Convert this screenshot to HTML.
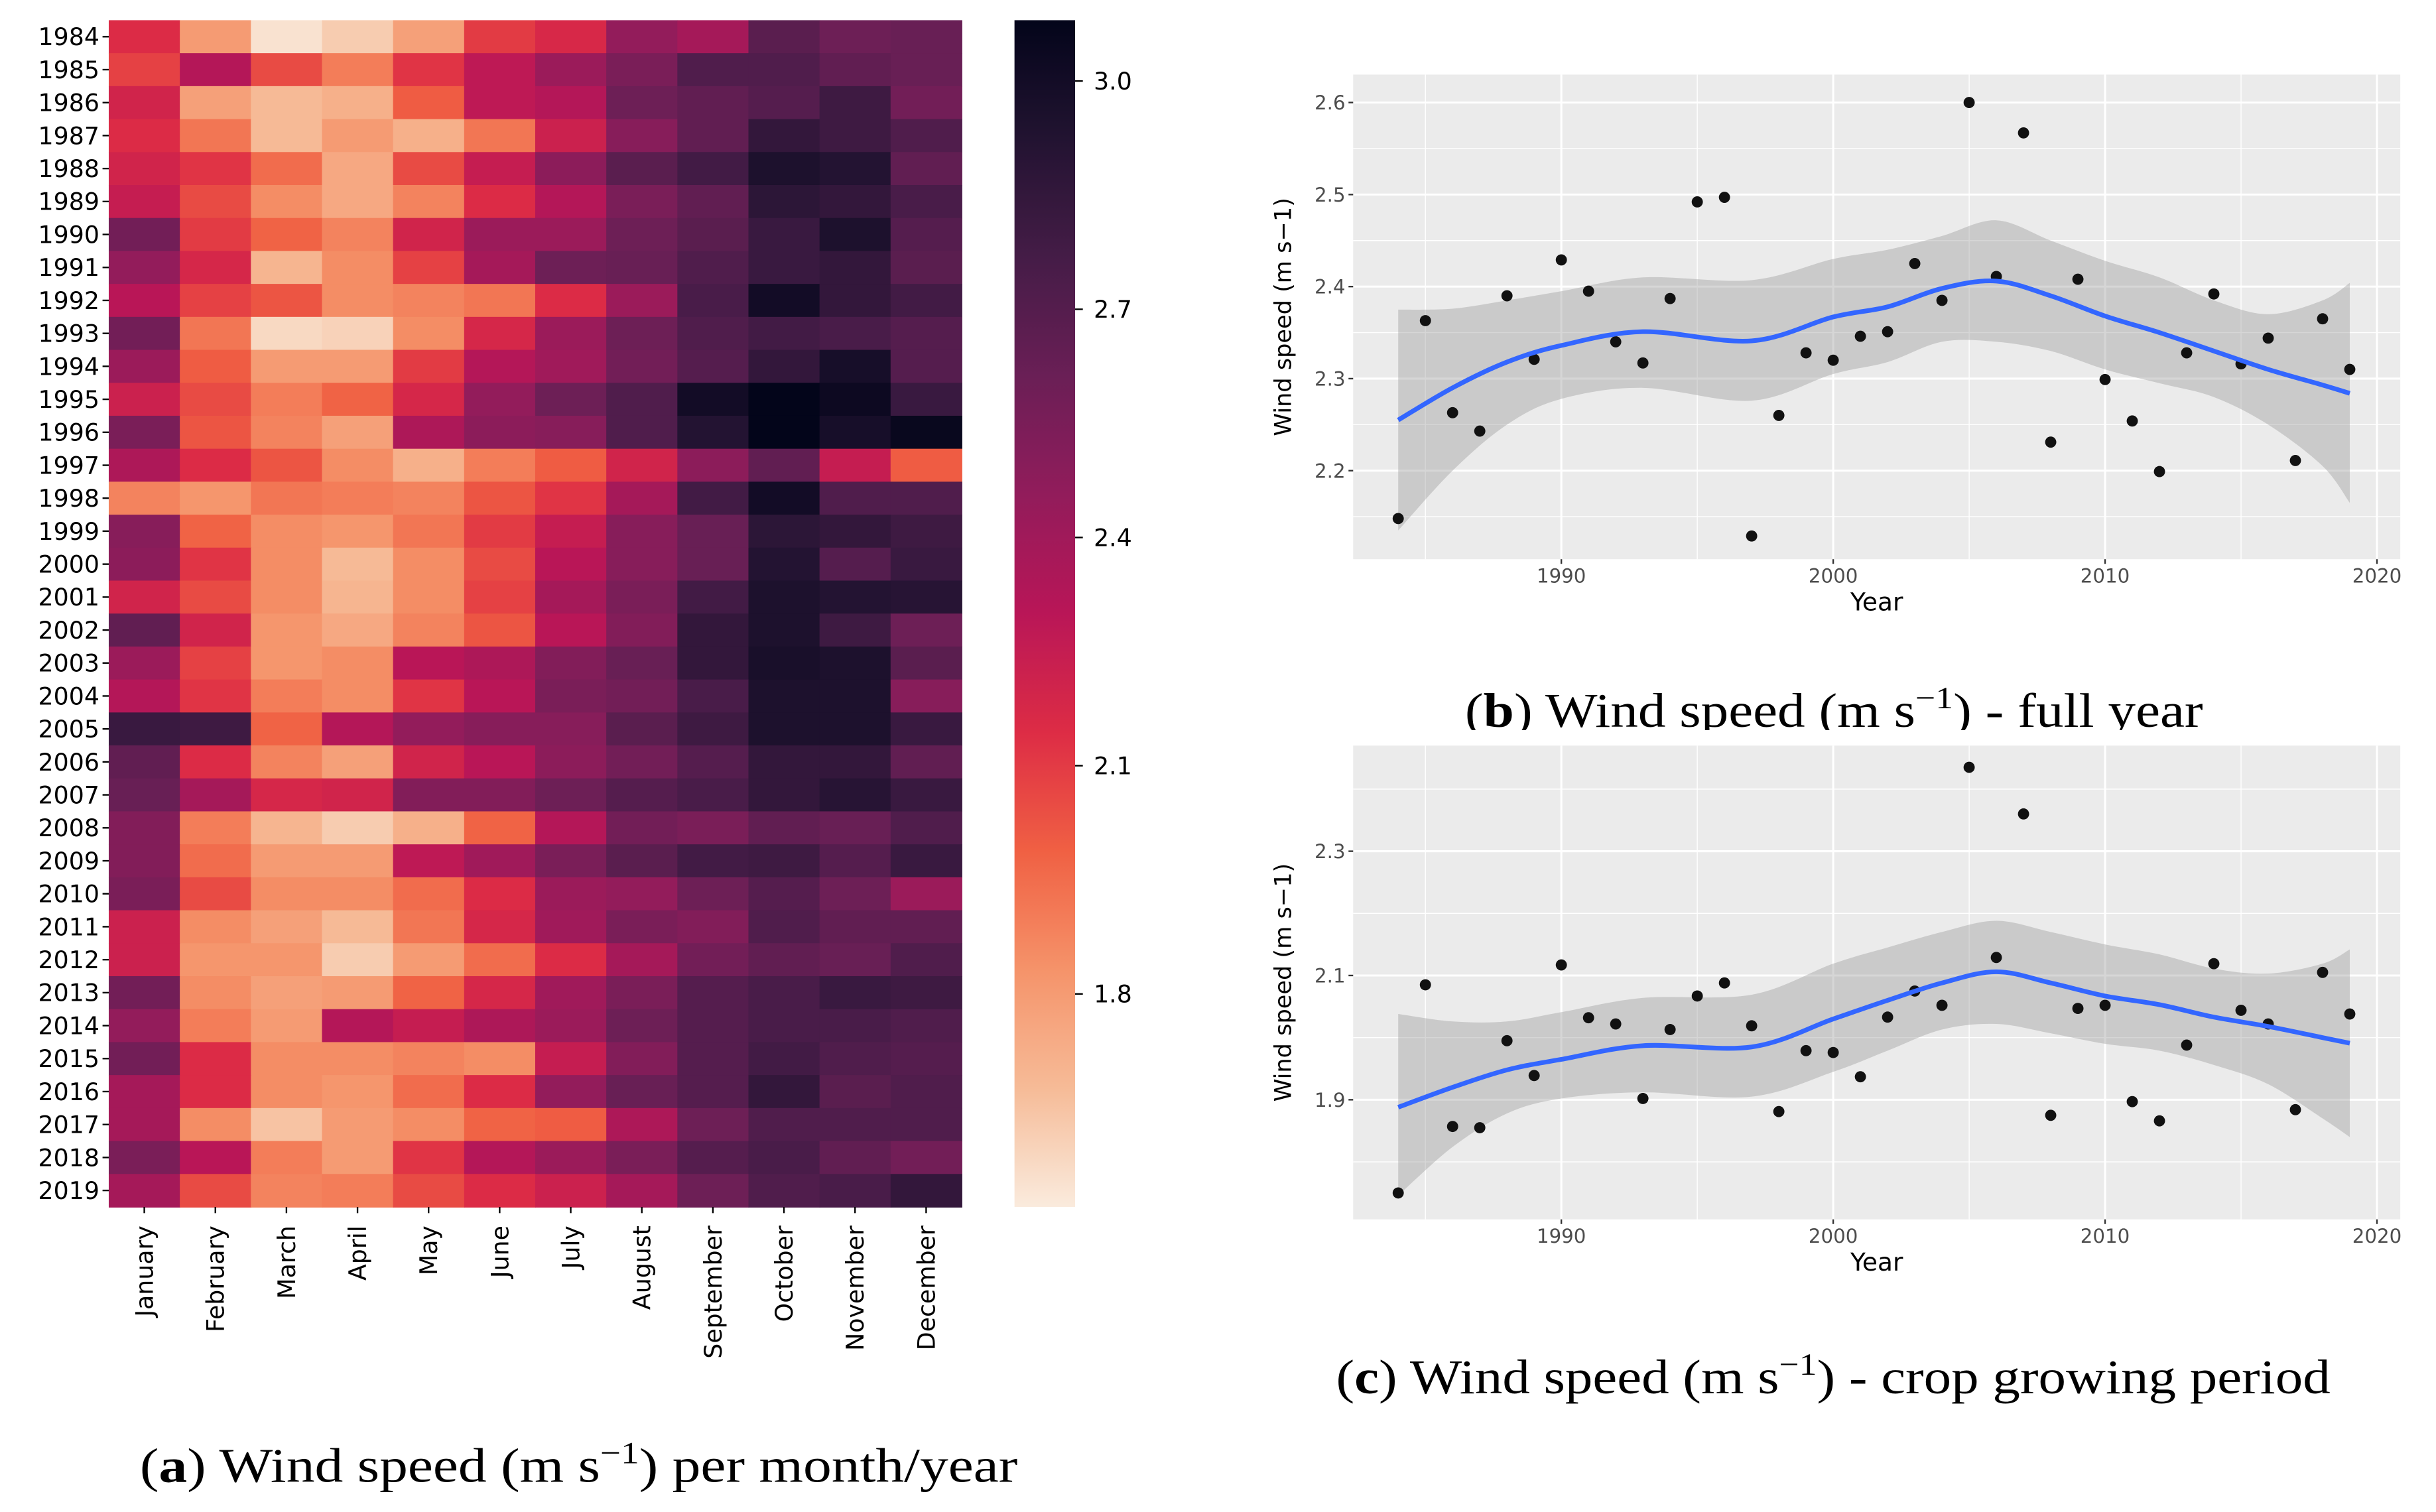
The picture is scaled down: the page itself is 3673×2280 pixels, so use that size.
<!DOCTYPE html>
<html><head><meta charset="utf-8"><style>
html,body{margin:0;padding:0;background:#fff;}
svg{display:block;}
text{font-family:"DejaVu Sans","Liberation Sans",sans-serif;}
.cap{font-family:"Liberation Serif",serif;font-size:31px;fill:#000;}
</style></head><body>
<svg id="fig" xmlns="http://www.w3.org/2000/svg" width="3673" height="2280" viewBox="0 0 1568 973.4" preserveAspectRatio="none">
<g id="heat"></g>
<g id="cbar"></g>
<g id="pb"></g>
<text class="cap" x="943" y="468" textLength="475" lengthAdjust="spacingAndGlyphs">(<tspan font-weight="bold">b</tspan>) Wind speed (m s<tspan dy="-12" font-size="20">−1</tspan><tspan dy="12">) - full year</tspan></text>
<rect x="860" y="470" width="700" height="12" fill="#fff"/>
<g id="pc"></g>
<text class="cap" x="90" y="954" textLength="565" lengthAdjust="spacingAndGlyphs">(<tspan font-weight="bold">a</tspan>) Wind speed (m s<tspan dy="-12" font-size="20">−1</tspan><tspan dy="12">) per month/year</tspan></text>
<text class="cap" x="860" y="897" textLength="640" lengthAdjust="spacingAndGlyphs">(<tspan font-weight="bold">c</tspan>) Wind speed (m s<tspan dy="-12" font-size="20">−1</tspan><tspan dy="12">) - crop growing period</tspan></text>
</svg>
<script>
const months = ["January","February","March","April","May","June","July","August","September","October","November","December"];
const heatYears = [1984,1985,1986,1987,1988,1989,1990,1991,1992,1993,1994,1995,1996,1997,1998,1999,2000,2001,2002,2003,2004,2005,2006,2007,2008,2009,2010,2011,2012,2013,2014,2015,2016,2017,2018,2019];
const heatValues = [
[2.15,1.8,1.55,1.62,1.78,2.1,2.17,2.45,2.38,2.68,2.6,2.62],
[2.08,2.32,2.05,1.9,2.12,2.28,2.42,2.55,2.72,2.72,2.65,2.62],
[2.2,1.78,1.68,1.72,2.0,2.28,2.32,2.6,2.65,2.7,2.8,2.58],
[2.15,1.92,1.68,1.8,1.72,1.92,2.22,2.5,2.65,2.85,2.8,2.72],
[2.2,2.12,1.95,1.75,2.05,2.25,2.48,2.68,2.78,2.95,2.92,2.65],
[2.25,2.05,1.85,1.75,1.88,2.15,2.32,2.55,2.65,2.88,2.85,2.75],
[2.58,2.1,1.98,1.88,2.2,2.42,2.42,2.6,2.68,2.82,2.95,2.7],
[2.45,2.18,1.7,1.85,2.08,2.38,2.6,2.62,2.72,2.82,2.85,2.68],
[2.3,2.08,2.02,1.85,1.88,1.92,2.15,2.42,2.75,3.0,2.85,2.78],
[2.58,1.92,1.58,1.6,1.85,2.18,2.42,2.6,2.72,2.78,2.75,2.7],
[2.42,2.0,1.8,1.8,2.1,2.32,2.4,2.58,2.7,2.85,2.98,2.7],
[2.22,2.05,1.9,1.98,2.18,2.45,2.6,2.72,3.0,3.08,3.03,2.82],
[2.55,2.02,1.88,1.78,2.35,2.48,2.5,2.72,2.92,3.08,2.98,3.05],
[2.35,2.15,2.02,1.85,1.72,1.9,2.0,2.2,2.48,2.65,2.25,2.0],
[1.88,1.82,1.92,1.9,1.88,2.02,2.12,2.38,2.78,3.0,2.72,2.72],
[2.5,1.98,1.85,1.82,1.92,2.1,2.25,2.5,2.62,2.88,2.85,2.8],
[2.48,2.12,1.85,1.68,1.85,2.05,2.3,2.5,2.62,2.92,2.7,2.82],
[2.2,2.05,1.85,1.7,1.85,2.08,2.38,2.55,2.78,2.95,2.92,2.9],
[2.65,2.2,1.82,1.75,1.88,2.02,2.3,2.52,2.85,2.95,2.8,2.6],
[2.42,2.08,1.82,1.85,2.3,2.35,2.52,2.62,2.85,2.97,2.95,2.68],
[2.32,2.12,1.9,1.85,2.12,2.3,2.55,2.58,2.75,2.95,2.95,2.5],
[2.82,2.8,1.98,2.32,2.45,2.5,2.5,2.68,2.8,2.95,2.95,2.82],
[2.65,2.15,1.88,1.78,2.2,2.3,2.48,2.58,2.7,2.85,2.85,2.65],
[2.62,2.38,2.18,2.2,2.52,2.52,2.6,2.7,2.75,2.85,2.9,2.82],
[2.52,1.9,1.7,1.62,1.72,1.98,2.32,2.58,2.55,2.65,2.62,2.72],
[2.52,1.95,1.8,1.8,2.28,2.4,2.55,2.68,2.78,2.8,2.7,2.82],
[2.55,2.05,1.85,1.85,1.95,2.15,2.42,2.45,2.6,2.7,2.6,2.42],
[2.22,1.85,1.78,1.68,1.92,2.18,2.4,2.55,2.52,2.72,2.65,2.65],
[2.22,1.82,1.82,1.62,1.8,1.95,2.15,2.38,2.58,2.65,2.62,2.72],
[2.58,1.85,1.78,1.8,1.98,2.18,2.4,2.55,2.7,2.75,2.82,2.8],
[2.45,1.9,1.8,2.32,2.25,2.35,2.42,2.6,2.7,2.75,2.75,2.72],
[2.58,2.15,1.85,1.85,1.88,1.85,2.25,2.52,2.7,2.78,2.72,2.7],
[2.38,2.15,1.85,1.82,1.95,2.15,2.45,2.62,2.7,2.85,2.68,2.72],
[2.38,1.85,1.65,1.8,1.85,1.98,2.0,2.35,2.6,2.72,2.72,2.72],
[2.55,2.3,1.9,1.8,2.12,2.32,2.42,2.55,2.7,2.75,2.65,2.58],
[2.38,2.05,1.88,1.9,2.05,2.15,2.22,2.38,2.6,2.72,2.75,2.85]];
const cbarTicks = [1.8,2.1,2.4,2.7,3.0];

const scYears = [1984,1985,1986,1987,1988,1989,1990,1991,1992,1993,1994,1995,1996,1997,1998,1999,2000,2001,2002,2003,2004,2005,2006,2007,2008,2009,2010,2011,2012,2013,2014,2015,2016,2017,2018,2019];
const fullYearValues = [2.148,2.363,2.263,2.243,2.39,2.321,2.429,2.395,2.34,2.317,2.387,2.492,2.497,2.129,2.26,2.328,2.32,2.346,2.351,2.425,2.385,2.6,2.411,2.567,2.231,2.408,2.299,2.254,2.199,2.328,2.392,2.316,2.344,2.211,2.365,2.31];
const cropValues = [1.75,2.085,1.857,1.855,1.995,1.939,2.117,2.032,2.022,1.902,2.013,2.067,2.088,2.019,1.881,1.979,1.976,1.937,2.033,2.075,2.052,2.435,2.129,2.36,1.875,2.047,2.052,1.897,1.866,1.988,2.119,2.044,2.022,1.884,2.105,2.038];
const smoothYears = [1984,1986,1988,1990,1993,1997,2000,2002,2004,2006,2008,2010,2012,2014,2016,2018,2019];
const fullSmooth = [2.255,2.29,2.318,2.336,2.351,2.341,2.367,2.378,2.398,2.406,2.39,2.368,2.35,2.33,2.31,2.293,2.284];
const fullLower = [2.135,2.2,2.25,2.278,2.29,2.276,2.305,2.318,2.34,2.34,2.33,2.31,2.295,2.28,2.25,2.205,2.165];
const fullUpper = [2.375,2.376,2.385,2.395,2.41,2.407,2.43,2.44,2.455,2.472,2.45,2.428,2.41,2.385,2.37,2.385,2.404];
const cropSmooth = [1.888,1.92,1.948,1.965,1.987,1.985,2.03,2.06,2.088,2.106,2.088,2.067,2.053,2.033,2.018,2.0,1.991];
const cropLower = [1.746,1.824,1.878,1.902,1.912,1.905,1.945,1.979,2.013,2.022,2.007,1.99,1.979,1.956,1.925,1.87,1.84];
const cropUpper = [2.038,2.026,2.026,2.041,2.064,2.069,2.119,2.145,2.17,2.188,2.17,2.15,2.134,2.111,2.103,2.119,2.142];
const xTicks = [1990,2000,2010,2020];
const fullTicks = [2.2,2.3,2.4,2.5,2.6];
const cropTicks = [1.9,2.1,2.3];

const NS="http://www.w3.org/2000/svg";
function mk(tag, attrs, parent){const e=document.createElementNS(NS,tag);for(const k in attrs)e.setAttribute(k,attrs[k]);parent.appendChild(e);return e;}

const stops=["#faebdd","#f6bb97","#f5936a","#f06043","#dd2c45","#b91657","#921c5b","#6a1f56","#451c47","#221331","#03051a"];
function hex(h){return [1,3,5].map(i=>parseInt(h.substr(i,2),16));}
const VMIN=1.52,VMAX=3.08;
function cmap(v){let t=(v-VMIN)/(VMAX-VMIN);t=Math.max(0,Math.min(1,t))*10;const i=Math.min(9,Math.floor(t)),f=t-i;const a=hex(stops[i]),b=hex(stops[i+1]);return "rgb("+a.map((x,j)=>Math.round(x+(b[j]-x)*f)).join(",")+")";}

const H=document.getElementById('heat');
const hx0=70,hx1=619,hy0=13,hy1=777;
const cw=(hx1-hx0)/months.length, ch=(hy1-hy0)/heatYears.length;
heatYears.forEach((y,r)=>{
  months.forEach((m,c)=>{
    const cell=mk('rect',{x:hx0+c*cw,y:hy0+r*ch,width:cw+0.4,height:ch+0.4,fill:cmap(heatValues[r][c])},H);
    
    
  });
  const cy=hy0+(r+0.5)*ch;
  mk('line',{x1:hx0-4,x2:hx0,y1:cy,y2:cy,stroke:"#000","stroke-width":1},H);
  const t=mk('text',{x:hx0-6,y:cy+5.5,"text-anchor":"end","font-size":15.5,fill:"#000"},H);
  t.textContent=y;
  
  
});
months.forEach((m,c)=>{
  const cx=hx0+(c+0.5)*cw;
  mk('line',{x1:cx,x2:cx,y1:hy1,y2:hy1+4,stroke:"#000","stroke-width":1},H);
  const t=mk('text',{x:0,y:0,"text-anchor":"end","font-size":15.5,fill:"#000",transform:`translate(${cx+5.5},${hy1+12}) rotate(-90)`},H);
  t.textContent=m;
  
  
});

const CB=document.getElementById('cbar');
const bx=653,bw=39,by0=13,by1=777;
const defs=mk('defs',{},CB);
const g=mk('linearGradient',{id:"cg",x1:0,y1:1,x2:0,y2:0},defs);
for(let i=0;i<=40;i++){const v=VMIN+(VMAX-VMIN)*i/40;mk('stop',{offset:i/40,"stop-color":cmap(v)},g);}
mk('rect',{x:bx,y:by0,width:bw,height:by1-by0,fill:"url(#cg)"},CB);
const cbY=v=>by1-(v-VMIN)/(VMAX-VMIN)*(by1-by0);
cbarTicks.forEach(v=>{
  const y=cbY(v);
  mk('line',{x1:bx+bw,x2:bx+bw+5,y1:y,y2:y,stroke:"#000","stroke-width":1},CB);
  const t=mk('text',{x:bx+bw+12,y:y+5.5,"font-size":15.5,fill:"#000"},CB);
  t.textContent=v.toFixed(1);
  
  
});

function panel(id,py0,py1,tickV,tickY0,valY0,scale,minorStep,vals,sm,lo,up){
  const P=document.getElementById(id);
  const px0=871,px1=1545;
  const X=yr=>1005+(yr-1990)*17.5;
  const Y=v=>tickY0-(v-valY0)*scale;
  mk('rect',{x:px0,y:py0,width:px1-px0,height:py1-py0,fill:"#ebebeb"},P);
  const vlo=valY0-(py1-tickY0)/scale, vhi=valY0+(tickY0-py0)/scale;
  for(let v=Math.ceil(vlo/minorStep)*minorStep; v<=vhi; v+=minorStep){
    const y=Y(v); if(y<py0||y>py1)continue;
    mk('line',{x1:px0,x2:px1,y1:y,y2:y,stroke:"#fff","stroke-width":0.6},P);
  }
  [1985,1995,2005,2015].forEach(yr=>mk('line',{x1:X(yr),x2:X(yr),y1:py0,y2:py1,stroke:"#fff","stroke-width":0.6},P));
  tickV.forEach(v=>{const y=Y(v);mk('line',{x1:px0,x2:px1,y1:y,y2:y,stroke:"#fff","stroke-width":1.3},P);
    mk('line',{x1:px0-3,x2:px0,y1:y,y2:y,stroke:"#333","stroke-width":1},P);
    const t=mk('text',{x:px0-5,y:y+4.5,"text-anchor":"end","font-size":12.5,fill:"#4d4d4d"},P);
    t.textContent=v.toFixed(1);
    
    
  });
  xTicks.forEach(yr=>{const x=X(yr);mk('line',{x1:x,x2:x,y1:py0,y2:py1,stroke:"#fff","stroke-width":1.3},P);
    mk('line',{x1:x,x2:x,y1:py1,y2:py1+3,stroke:"#333","stroke-width":1},P);
    const t=mk('text',{x:x,y:py1+15,"text-anchor":"middle","font-size":12.5,fill:"#4d4d4d"},P);
    t.textContent=yr;
    
    
  });
  function smoothPath(vs){const pts=smoothYears.map((yr,i)=>[X(yr),Y(vs[i])]);
    let s="";
    for(let i=0;i<pts.length-1;i++){const p0=pts[Math.max(0,i-1)],p1=pts[i],p2=pts[i+1],p3=pts[Math.min(pts.length-1,i+2)];
      s+=` C${p1[0]+(p2[0]-p0[0])/6},${p1[1]+(p2[1]-p0[1])/6} ${p2[0]-(p3[0]-p1[0])/6},${p2[1]-(p3[1]-p1[1])/6} ${p2[0]},${p2[1]}`;}
    return {start:pts[0],end:pts[pts.length-1],s:s,pts:pts};}
  const u=smoothPath(up);
  const lRev=smoothYears.map((yr,i)=>[X(yr),Y(lo[i])]).reverse();
  let lr="";
  for(let i=0;i<lRev.length-1;i++){const p0=lRev[Math.max(0,i-1)],p1=lRev[i],p2=lRev[i+1],p3=lRev[Math.min(lRev.length-1,i+2)];
    lr+=` C${p1[0]+(p2[0]-p0[0])/6},${p1[1]+(p2[1]-p0[1])/6} ${p2[0]-(p3[0]-p1[0])/6},${p2[1]-(p3[1]-p1[1])/6} ${p2[0]},${p2[1]}`;}
  const d="M"+u.start.join(",")+u.s+" L"+lRev[0].join(",")+lr+" Z";
  const band=mk('path',{d:d,fill:"#999","fill-opacity":0.4},P);
  
  
  scYears.forEach((yr,i)=>{
    const c=mk('circle',{cx:X(yr),cy:Y(vals[i]),r:3.6,fill:"#111"},P);
    
    
  });
  const sp=smoothPath(sm);
  const ln=mk('path',{d:"M"+sp.start.join(",")+sp.s,fill:"none",stroke:"#3366ff","stroke-width":3},P);
  
  
  const xt=mk('text',{x:(px0+px1)/2,y:py1+33,"text-anchor":"middle","font-size":16,fill:"#000"},P);
  xt.textContent="Year";
  
  
  const yt=mk('text',{x:0,y:0,"text-anchor":"middle","font-size":15,fill:"#000",transform:`translate(831,${(py0+py1)/2}) rotate(-90)`},P);
  yt.textContent="Wind speed (m s−1)";
  
  
}
panel('pb',48,360,fullTicks,66,2.6,592.5,0.05,fullYearValues,fullSmooth,fullLower,fullUpper);
panel('pc',480,785,cropTicks,548,2.3,400,0.1,cropValues,cropSmooth,cropLower,cropUpper);
</script>
</body></html>
